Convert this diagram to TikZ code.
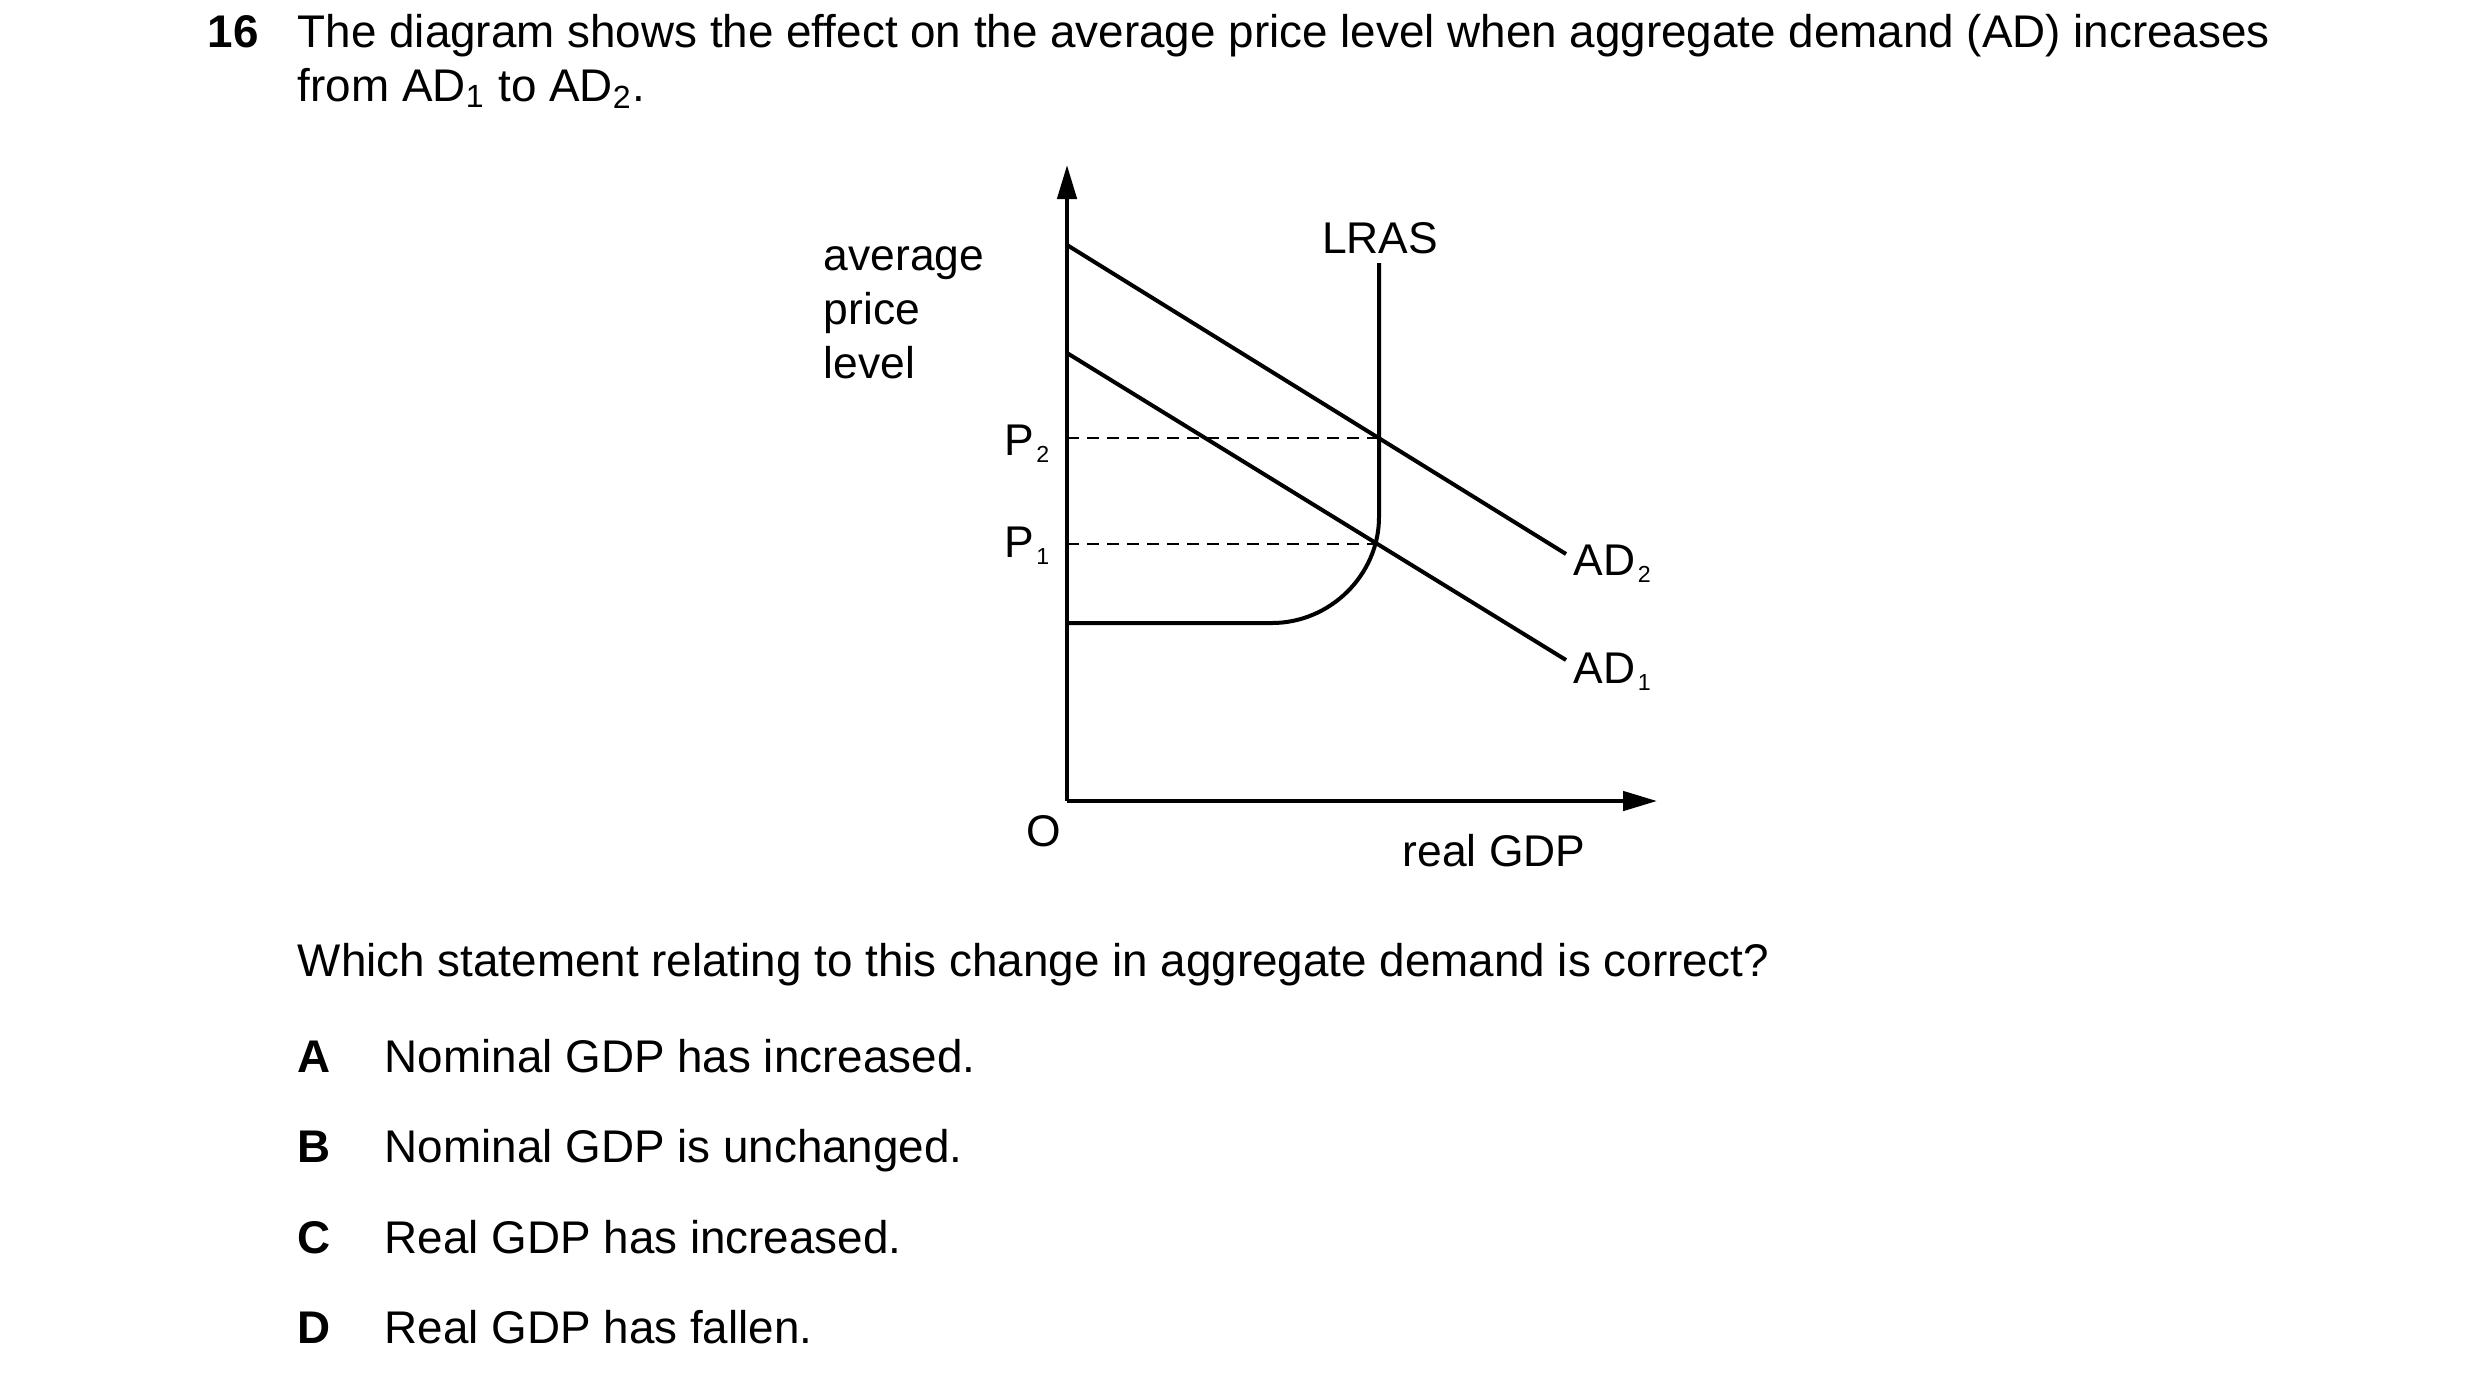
\documentclass[tikz,border=0pt]{standalone}
\usepackage{fontspec}
\setmainfont{Liberation Sans}
\usetikzlibrary{arrows.meta}
\newcommand\dsub[1]{\hspace{0.6pt}\raisebox{-1.9pt}{\fontsize{5.8}{7}\selectfont #1}}
\begin{document}
\begin{tikzpicture}[x=0.25pt,y=-0.25pt,
  txt/.style={anchor=base west,inner sep=0pt,font=\fontsize{11.45}{13.5}\selectfont},
  btxt/.style={anchor=base west,inner sep=0pt,font=\fontsize{11.45}{13.5}\selectfont\bfseries},
  lbl/.style={inner sep=0pt,font=\fontsize{11.1}{13.5}\selectfont},
  curve/.style={line width=1pt},
  guide/.style={line width=0.5pt,dash pattern=on 3pt off 2pt},
  axis/.style={line width=1pt,-{Triangle[length=8.5pt,width=4.8pt]}}]
\useasboundingbox (0,0) rectangle (2480,1383);
% question text
\node[btxt] (qn) at (207,47) {16};
\node[txt] (q1) at (297,47) {The diagram shows the effect on the average price level when aggregate demand (AD) increases};
\node[txt] (q2) at (297,101) {from AD\textsubscript{1} to AD\textsubscript{2}.};
\node[txt] (q3) at (297,976) {Which statement relating to this change in aggregate demand is correct?};
\node[btxt] (la) at (297,1072) {A};
\node[txt] (ta) at (384,1072) {Nominal GDP has increased.};
\node[btxt] (lb) at (297,1162) {B};
\node[txt] (tb) at (384,1162) {Nominal GDP is unchanged.};
\node[btxt] (lc) at (297,1253) {C};
\node[txt] (tc) at (384,1253) {Real GDP has increased.};
\node[btxt] (ld) at (297,1343) {D};
\node[txt] (td) at (384,1343) {Real GDP has fallen.};
% diagram coordinates
\coordinate (o) at (1067,801);
\coordinate (ytop) at (1067,165);
\coordinate (xend) at (1657,801);
\coordinate (ad2a) at (1067,245);
\coordinate (ad2b) at (1566,554);
\coordinate (ad1a) at (1067,353);
\coordinate (ad1b) at (1566,660);
\coordinate (lrastop) at (1379,263);
\coordinate (lrasv) at (1379,517);
\coordinate (hend) at (1272,623);
\coordinate (hstart) at (1067,623);
\coordinate (p2a) at (1067,438);
\coordinate (p2b) at (1379,438);
\coordinate (p1a) at (1067,544);
\coordinate (p1b) at (1375,544);
% axes
\draw[axis] (o) -- (ytop);
\draw[axis] (o) -- (xend);
% curves
\draw[curve] (ad2a) -- (ad2b);
\draw[curve] (ad1a) -- (ad1b);
\draw[curve] (lrastop) -- (lrasv) .. controls (1379,575) and (1330,623) .. (hend) -- (hstart);
\draw[guide] (p2a) -- (p2b);
\draw[guide] (p1a) -- (p1b);
% labels
\node[lbl,anchor=base west] (ylab1) at (823,270) {average};
\node[lbl,anchor=base west] (ylab2) at (823,324) {price};
\node[lbl,anchor=base west] (ylab3) at (823,378) {level};
\node[lbl,anchor=base] (lras) at (1380,253) {LRAS};
\node[lbl,anchor=base east] (p2) at (1050,455) {P\dsub{2}};
\node[lbl,anchor=base east] (p1) at (1050,557) {P\dsub{1}};
\node[lbl,anchor=base] (olab) at (1044,846) {O};
\node[lbl,anchor=base] (xlab) at (1494,866) {real GDP};
\node[lbl,anchor=base west] (ad2) at (1573,575) {AD\dsub{2}};
\node[lbl,anchor=base west] (ad1) at (1573,683) {AD\dsub{1}};
\end{tikzpicture}
\end{document}
